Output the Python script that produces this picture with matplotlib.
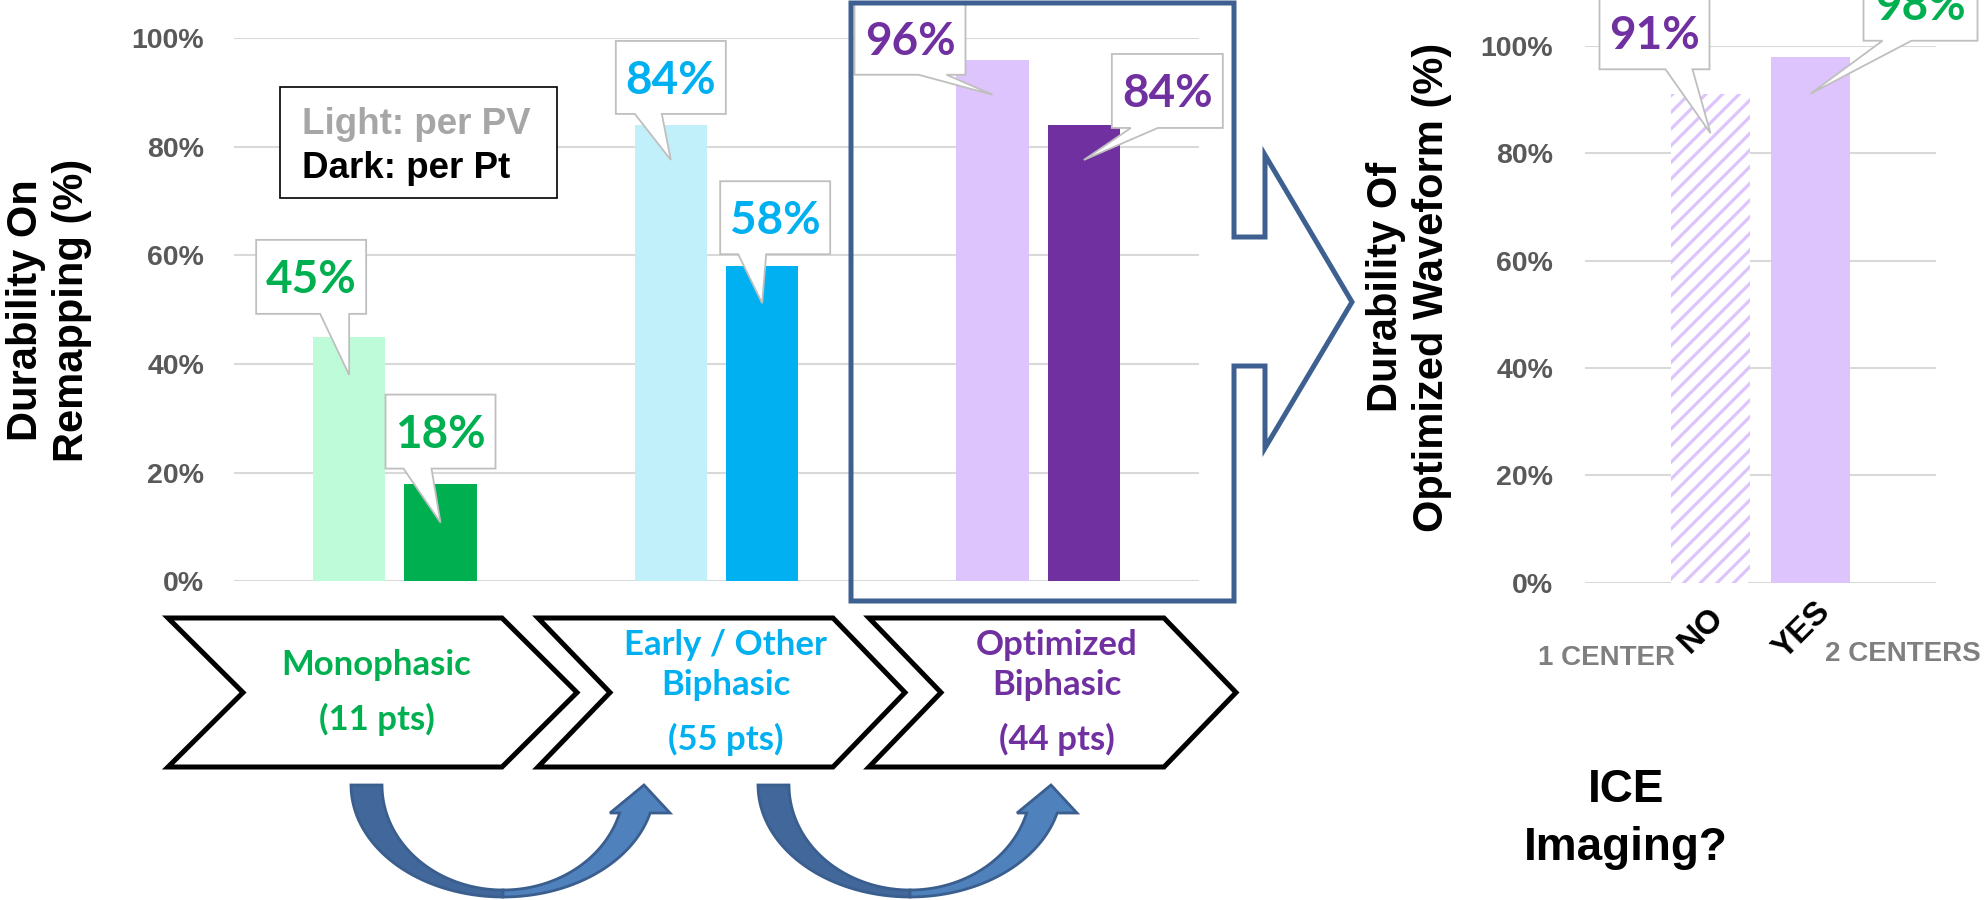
import matplotlib
matplotlib.use("Agg")
import matplotlib.pyplot as plt
from matplotlib.patches import Polygon, Rectangle
from matplotlib.ticker import FuncFormatter
from matplotlib.transforms import ScaledTranslation
import numpy as np

plt.rcParams['font.family'] = ['Liberation Sans', 'DejaVu Sans']
plt.rcParams['hatch.linewidth'] = 2.3

# ---- data ----
phase_names = ["Monophasic", "Early / Other\nBiphasic", "Optimized\nBiphasic"]
phase_pts = [11, 55, 44]
per_pv = [45, 84, 96]      # light bars (per PV)
per_pt = [18, 58, 84]      # dark bars (per Pt)
ice_labels = ["NO", "YES"]
ice_vals = [91, 98]

light_colors = ["#BDFBD9", "#C1F0FB", "#DDC4FC"]
dark_colors = ["#00B050", "#00B0F0", "#7030A0"]
ice_text_colors = ["#7030A0", "#00B050"]

W, H = 1985, 900
GRID = "#D9D9D9"
TICK = "#595959"
FRAME = "#3E6090"
CALLOUT_FONT = "Lato"

# callout geometry relative to bar top, pixels (left, right, top, bottom, base1, base2, tip_dy)
pv_callouts = [(-93, 17, -97, -23, -29, 0, 38),
               (-55, 55, -84, -11, -36, -9, 35),
               (-138, -27, -57, 15, -74, -46, 35)]
pt_callouts = [(-55, 55, -89, -15, -37, -9, 39),
               (-42, 68, -85, -12, -24, 4, 37),
               (28, 139, -71, 3, 47, 74, 35)]
ice_callouts = [(-111, -1, -99, -25, -45, -18, 39),
                (53, 167, -90, -16, 72, 101, 37)]

fig = plt.figure(figsize=(W / 100, H / 100), dpi=100)
ax1 = fig.add_axes([234 / W, (H - 581.4) / H, 965 / W, 543.4 / H])
ax2 = fig.add_axes([1585 / W, (H - 582.6) / H, 351 / W, 536.6 / H])
ov = fig.add_axes([0, 0, 1, 1], zorder=5)
ov.set_xlim(0, W)
ov.set_ylim(H, 0)
ov.axis("off")
ov.patch.set_alpha(0)

pct = FuncFormatter(lambda v, p: "{:.0f}%".format(v * 100))


def style_axis(ax, pad):
    ax.set_ylim(0, 1)
    ax.set_yticks(np.arange(0, 1.01, 0.2))
    ax.yaxis.set_major_formatter(pct)
    ax.grid(axis="y", color=GRID, lw=1.5)
    ax.set_axisbelow(True)
    for s in ax.spines.values():
        s.set_visible(False)
    ax.tick_params(axis="y", length=0, pad=pad, labelsize=20.5, labelcolor=TICK)
    for lab in ax.get_yticklabels():
        lab.set_fontweight("bold")


# ---- left chart ----
x = np.arange(len(per_pv))
off, bw = 0.142, 0.224
ax1.bar(x - off, np.array(per_pv) / 100, bw, color=light_colors)
ax1.bar(x + off, np.array(per_pt) / 100, bw, color=dark_colors)
ax1.set_xlim(-0.5, 2.5)
ax1.set_xticks([])
style_axis(ax1, 21.6)
ax1.set_ylabel("Durability On\nRemapping (%)", fontsize=30, fontweight="bold",
               ha="center", va="center")
ax1.yaxis.set_label_coords(-0.1917, 0.4994)

# ---- right chart ----
xi = np.arange(len(ice_vals))
bars = ax2.bar(xi, np.array(ice_vals) / 100, 0.79, color=["white", "#DDC4FC"])
bars[0].set_hatch("//")
bars[0].set_edgecolor("#DDC4FC")
bars[0].set_linewidth(0)
ax2.set_xlim(-1.255, 2.255)
style_axis(ax2, 23)
ax2.set_xticks(xi)
ax2.set_xticklabels(ice_labels, rotation=45, ha="center", va="center",
                    rotation_mode="anchor", fontsize=24, fontweight="bold")
ax2.tick_params(axis="x", length=0, pad=34.5)
for lab in ax2.get_xticklabels():
    lab.set_transform(lab.get_transform() + ScaledTranslation(-9 / 100, 0, fig.dpi_scale_trans))
ax2.set_ylabel("Durability Of\nOptimized Waveform (%)", fontsize=30, fontweight="bold",
               ha="center", va="center")
ax2.yaxis.set_label_coords(-0.5014, 0.551)


def to_px(ax, xv, yv):
    X, Y = ax.transData.transform((xv, yv))
    return X, H - Y


def callout(bx, by, geom, text, color):
    l, r, t, b, b1, b2, tdy = geom
    pts = [(bx + l, by + t), (bx + r, by + t), (bx + r, by + b), (bx + b2, by + b),
           (bx, by + tdy), (bx + b1, by + b), (bx + l, by + b)]
    ov.add_patch(Polygon(pts, closed=True, fc="white", ec="#BFBFBF", lw=1.3, joinstyle="miter"))
    ov.text(bx + (l + r) / 2, by + (t + b) / 2 + 16.5, text, ha="center", va="baseline",
            fontsize=33, fontweight="bold", family=CALLOUT_FONT, color=color)


for i in range(len(per_pv)):
    bx, by = to_px(ax1, x[i] - off, per_pv[i] / 100)
    callout(bx, by, pv_callouts[i], "{}%".format(per_pv[i]), dark_colors[i])
    bx, by = to_px(ax1, x[i] + off, per_pt[i] / 100)
    callout(bx, by, pt_callouts[i], "{}%".format(per_pt[i]), dark_colors[i])
for i in range(len(ice_vals)):
    bx, by = to_px(ax2, xi[i], ice_vals[i] / 100)
    callout(bx, by, ice_callouts[i], "{}%".format(ice_vals[i]), ice_text_colors[i])

# legend box
ov.add_patch(Rectangle((280, 87), 277, 111, fc="white", ec="black", lw=1.2))
ov.text(302, 134, "Light: per PV", fontsize=26.5, fontweight="bold", color="#A6A6A6", va="baseline")
ov.text(302, 178, "Dark: per Pt", fontsize=26.5, fontweight="bold", color="black", va="baseline")

# frame around the optimized group with block arrow
frame = [(851, 3), (1234, 3), (1234, 237), (1265, 237), (1265, 155), (1352, 302),
         (1265, 448), (1265, 366), (1234, 366), (1234, 601), (851, 601)]
ov.add_patch(Polygon(frame, closed=True, fill=False, ec=FRAME, lw=3.6, joinstyle="miter"))

# chevrons with phase names
chevrons = [(168, 502, 577, 243), (538, 833, 905, 610), (869, 1164, 1236, 941)]
top, bot, mid = 618, 767, 692.5
for (L, C, T, N), name, n, col in zip(chevrons, phase_names, phase_pts, dark_colors):
    ov.add_patch(Polygon([(L, top), (C, top), (T, mid), (C, bot), (L, bot), (N, mid)],
                         closed=True, fc="white", ec="black", lw=3.6, joinstyle="miter"))
    cx = (N + C) / 2 + 4
    lines = name.split("\n")
    if len(lines) == 1:
        bases, pbase = [675], 730
    else:
        bases, pbase = [655, 695], 750
    for ln, yb in zip(lines, bases):
        ov.text(cx, yb, ln, ha="center", va="baseline", fontsize=25, fontweight="bold",
                family=CALLOUT_FONT, color=col)
    ov.text(cx, pbase, "({} pts)".format(n), ha="center", va="baseline", fontsize=25,
            fontweight="bold", family=CALLOUT_FONT, color=col)

# curved transition arrows
for cx in [503, 910]:
    t0 = 785
    rxo, ryo, rxi, ryi = 152, 112, 121, 105
    th_o = np.pi - np.arcsin(28 / ryo)
    th_i = np.pi - np.arcsin(28 / ryi)
    a1 = np.linspace(0, np.pi / 2, 40)
    dark = [(cx - rxo * np.cos(a), t0 + ryo * np.sin(a)) for a in a1] + \
           [(cx - rxi * np.cos(a), t0 + ryi * np.sin(a)) for a in a1[::-1]]
    ao = np.linspace(np.pi / 2, th_o, 40)
    ai = np.linspace(th_i, np.pi / 2, 40)
    light = [(cx - rxo * np.cos(a), t0 + ryo * np.sin(a)) for a in ao] + \
            [(cx + 167, 813), (cx + 141, t0), (cx + 107, 813)] + \
            [(cx - rxi * np.cos(a), t0 + ryi * np.sin(a)) for a in ai]
    ov.add_patch(Polygon(dark, closed=True, fc="#41679B", ec="#3A5E8E", lw=2))
    ov.add_patch(Polygon(light, closed=True, fc="#4F81BD", ec="#3A5E8E", lw=2))

# right chart captions
ov.text(1606, 658, "1 CENTER", ha="center", va="center", fontsize=20, fontweight="bold", color="#7F7F7F")
ov.text(1825, 654, "2 CENTERS", ha="left", va="center", fontsize=20, fontweight="bold", color="#7F7F7F")
ov.text(1626, 802, "ICE", ha="center", va="baseline", fontsize=33, fontweight="bold")
ov.text(1626, 860, "Imaging?", ha="center", va="baseline", fontsize=33, fontweight="bold")

fig.savefig("out.png", dpi=100)
